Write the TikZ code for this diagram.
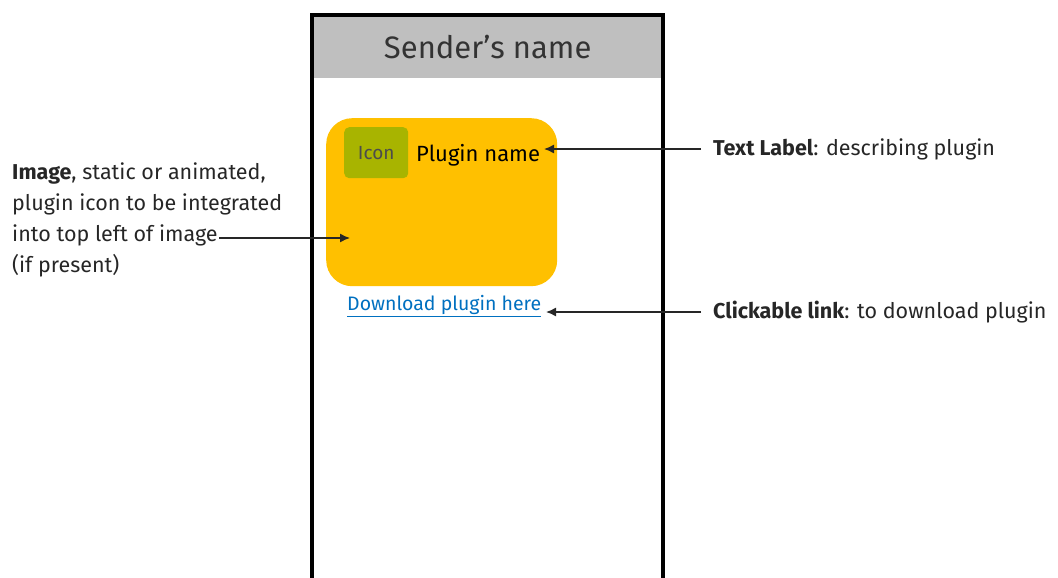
\documentclass[tikz,border=0pt]{standalone}
\usepackage{fontspec}
\setmainfont{Fira Sans}
\usetikzlibrary{arrows.meta}
\definecolor{plugorange}{HTML}{FFC000}
\definecolor{iconolive}{HTML}{A8B400}
\definecolor{headgray}{HTML}{BFBFBF}
\definecolor{linkblue}{HTML}{0070C0}
\tikzset{
  lbl/.style={font=\fontsize{21.5}{31}\selectfont, inner sep=0pt, text=black!85},
  pointer/.style={line width=1.4pt, black!85, -{Latex[length=10pt,width=9pt]}},
}
\begin{document}
\begin{tikzpicture}[x=1pt,y=1pt]
\useasboundingbox (0,0) rectangle (1058,-578);
% header
\node[fill=headgray, minimum width=349pt, minimum height=62pt, inner sep=0pt, anchor=north west,
      font=\fontsize{31}{34}\selectfont, text=black!80] (head) at (313,-16) {Sender’s name};
% phone frame
\draw[line width=3.2pt, line join=miter] (312,-578) -- (312,-15) -- (663,-15) -- (663,-578);
% plugin card
\node[fill=plugorange, rounded corners=26pt, minimum width=231pt, minimum height=168pt, anchor=north west, inner sep=0pt] (card) at (326,-118) {};
\node[fill=iconolive, rounded corners=5pt, minimum width=64pt, minimum height=51pt, anchor=north west, inner sep=0pt,
      font=\fontsize{19}{20}\selectfont, text=black!70] (icon) at (344,-127) {Icon};
\node[anchor=west, inner sep=0pt, font=\fontsize{22}{24}\selectfont] (pname) at (416,-155) {Plugin name};
\node[anchor=west, inner sep=0pt, font=\fontsize{19.5}{22}\selectfont, text=linkblue] (link) at (347,-306) {\underline{Download plugin here}};
\coordinate (imgpt) at (350,-238);
\coordinate (pnpt) at (544,-149);
\coordinate (lkpt) at (546,-312);
% labels
\node[lbl, anchor=west] (tl) at (713,-149) {\textbf{Text Label}: describing plugin};
\node[lbl, anchor=west] (cl) at (713,-312) {\textbf{Clickable link}: to download plugin};
\node[lbl, anchor=north west, align=left] (il) at (12,-163) {\textbf{Image}, static or animated,\\plugin icon to be integrated\\into top left of image\\(if present)};
\coordinate (ilend) at (219,-238);
% pointers
\draw[pointer] ([xshift=-12pt]tl.west) -- (pnpt);
\draw[pointer] ([xshift=-12pt]cl.west) -- (lkpt);
\draw[pointer] (ilend) -- (imgpt);
\end{tikzpicture}
\end{document}
